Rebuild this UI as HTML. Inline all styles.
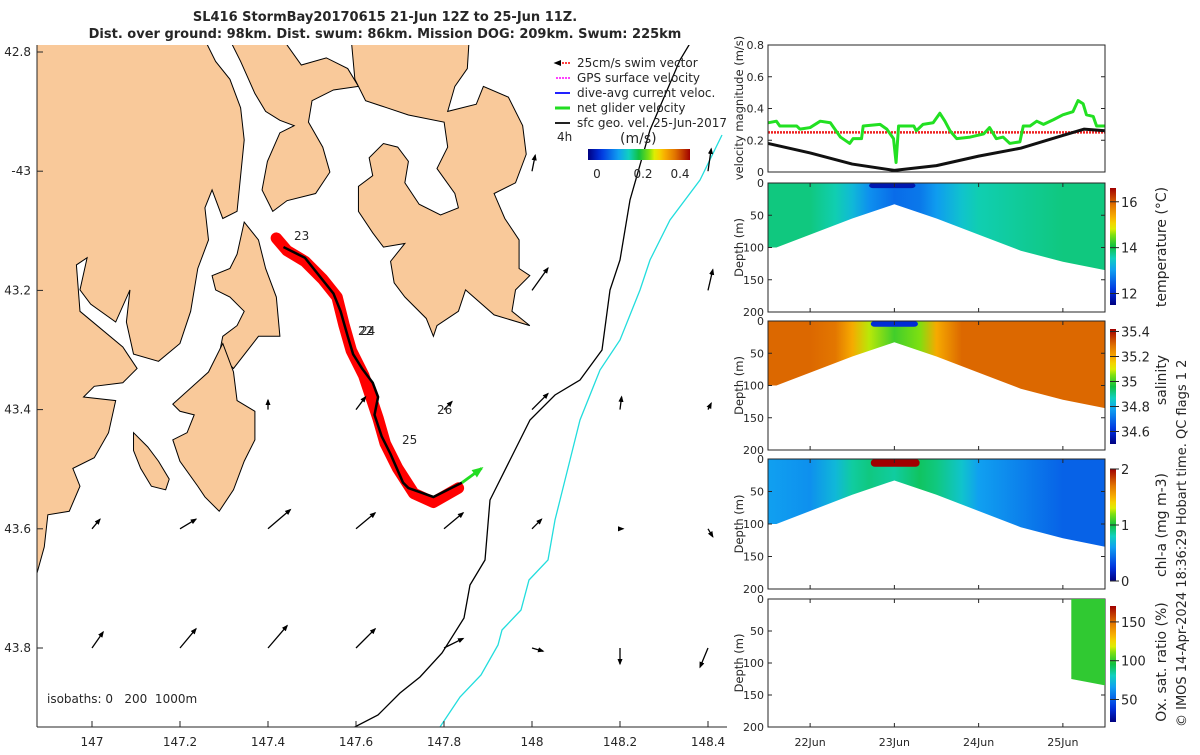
<!DOCTYPE html>
<html><head><meta charset="utf-8"><style>
body{margin:0;background:#fff;width:1200px;height:750px;overflow:hidden;font-family:"Liberation Sans","DejaVu Sans",sans-serif;}
svg text{font-family:"DejaVu Sans","Liberation Sans",sans-serif;fill:#262626;}
</style></head><body>
<svg id="s" width="1200" height="750" viewBox="0 0 1200 750" xmlns="http://www.w3.org/2000/svg">
<defs>
<marker id="ah" viewBox="0 0 10 10" refX="8" refY="5" markerWidth="5" markerHeight="5" orient="auto"><path d="M0,1 L10,5 L0,9 z" fill="#000"/></marker>
<marker id="ahg" viewBox="0 0 10 10" refX="8" refY="5" markerWidth="4" markerHeight="4" orient="auto"><path d="M0,1 L10,5 L0,9 z" fill="#22dd22"/></marker>
</defs>
<text x="385" y="21" font-size="13" font-weight="bold" text-anchor="middle">SL416 StormBay20170615 21-Jun 12Z to 25-Jun 11Z.</text>
<text x="385" y="38" font-size="13" font-weight="bold" text-anchor="middle">Dist. over ground: 98km. Dist. swum: 86km. Mission DOG: 209km. Swum: 225km</text>

<g id="map">
<clipPath id="mapclip"><rect x="37" y="45" width="690" height="682"/></clipPath>
<g clip-path="url(#mapclip)">
<g transform="translate(30,40) scale(0.357)" fill="#f9c99a" stroke="#000" stroke-width="1">
<polygon vector-effect="non-scaling-stroke" points="0,0 490,0 520,60 560,110 590,190 600,280 590,380 580,480 540,500 510,420 490,470 500,560 470,640 450,760 420,850 360,900 290,880 270,790 280,700 240,790 170,740 140,700 160,610 130,630 140,760 260,860 300,920 260,960 180,970 150,1000 240,1010 220,1100 180,1170 120,1200 140,1250 110,1320 50,1330 40,1420 15,1510 0,1510"/>
<polygon vector-effect="non-scaling-stroke" points="560,0 710,0 760,70 830,50 890,80 920,130 850,140 790,170 780,230 820,300 840,370 800,430 720,450 680,480 650,420 665,340 700,260 740,240 700,225 660,200 630,150 590,60"/>
<polygon vector-effect="non-scaling-stroke" points="900,0 1230,0 1225,80 1190,130 1170,200 1250,180 1270,130 1340,160 1380,240 1390,320 1360,400 1300,430 1330,500 1370,560 1370,640 1400,660 1360,700 1350,760 1400,800 1300,770 1220,700 1200,760 1140,800 1130,830 1110,780 1050,720 1020,680 1010,620 1050,570 990,580 960,540 920,480 920,410 960,380 950,330 990,290 1030,300 1060,340 1050,400 1090,460 1150,490 1200,470 1190,430 1140,360 1170,300 1160,230 1060,210 1000,190 940,170 910,110"/>
<polygon vector-effect="non-scaling-stroke" points="600,510 640,560 660,640 690,720 700,830 640,830 570,920 530,880 540,830 580,800 600,760 560,720 520,700 510,660 560,640 580,600"/>
<polygon vector-effect="non-scaling-stroke" points="540,850 570,930 580,1010 630,1040 630,1120 600,1180 570,1260 530,1320 490,1280 470,1250 420,1180 400,1120 440,1100 460,1050 420,1040 400,1020 500,930"/>
<polygon vector-effect="non-scaling-stroke" points="290,1100 330,1140 360,1180 390,1230 380,1260 340,1250 310,1200 290,1150"/>
<polyline fill="none" stroke="#ff0000" stroke-width="32" stroke-linejoin="round" stroke-linecap="round" points="690,555 720,590 770,620 820,670 860,720 880,800 900,870 935,940 955,1000 975,1060 995,1130 1030,1200 1075,1270 1130,1295 1200,1255"/>
<polyline fill="none" stroke="#000" stroke-width="7" points="710,580 770,610 810,660 850,710 870,760 890,830 905,880 930,920 960,960 975,1000 965,1050 985,1110 1010,1160 1045,1240 1060,1255 1130,1280 1210,1240"/>
<line x1="1210" y1="1240" x2="1265" y2="1200" stroke="#22dd22" stroke-width="8" marker-end="url(#ahg)"/>
</g>
<polyline fill="none" stroke="#000" stroke-width="1.3" points="692,40 680,60 650,130 630,200 620,260 610,290 602,350 580,380 555,395 530,420 510,460 490,500 485,560 470,585 464,618 442,653 420,677 400,693 378,715 345,732"/>
<polyline fill="none" stroke="#22dddd" stroke-width="1.3" points="722,135 700,180 670,220 650,260 640,290 620,340 600,370 580,420 570,460 560,500 555,520 548,560 529,580 521,610 502,630 498,645 481,675 460,697 438,730"/>
</g>
<g id="vecs"></g>
<text x="294" y="240" font-size="12">23</text>
<text x="358" y="335" font-size="12">22</text>
<text x="360" y="335" font-size="12">24</text>
<text x="402" y="444" font-size="12">25</text>
<text x="437" y="414" font-size="12">26</text>
<line x1="37" y1="727" x2="727" y2="727" stroke="#262626"/>
<line x1="37" y1="45" x2="37" y2="727" stroke="#262626"/>
<g id="mapticks"></g>
<text x="47" y="703" font-size="12" xml:space="preserve">isobaths: 0   200  1000m</text>
<g font-size="12">
<line x1="570" y1="63" x2="555" y2="63" stroke="#f00" stroke-width="1.5" stroke-dasharray="2,1" marker-end="url(#ah)"/><text x="577" y="67">25cm/s swim vector</text>
<line x1="570" y1="78" x2="555" y2="78" stroke="#f0f" stroke-width="1.5" stroke-dasharray="2,1"/><text x="577" y="82">GPS surface velocity</text>
<line x1="570" y1="93" x2="555" y2="93" stroke="#22f" stroke-width="2"/><text x="577" y="97">dive-avg current veloc.</text>
<line x1="570" y1="108" x2="555" y2="108" stroke="#2d2" stroke-width="3"/><text x="577" y="112">net glider velocity</text>
<line x1="570" y1="123" x2="555" y2="123" stroke="#222" stroke-width="2"/><text x="577" y="127">sfc geo. vel. 25-Jun-2017</text>
<text x="557" y="141">4h</text>
<text x="620" y="143" font-size="14">(m/s)</text>
<rect id="mscb" x="588" y="149" width="102" height="11"/>
<text x="597" y="178" text-anchor="middle">0</text><text x="643" y="178" text-anchor="middle">0.2</text><text x="680" y="178" text-anchor="middle">0.4</text>
</g>
</g>

<g id="right"></g>
<text transform="translate(1186,727) rotate(-90)" font-size="13">© IMOS 14-Apr-2024 18:36:29 Hobart time. QC flags 1  2</text>
</svg>
<script>
// ---------- DATA ----------
const velT = [21.50,21.60,21.64,21.84,21.88,22.0,22.12,22.24,22.36,22.47,22.51,22.61,22.63,22.83,22.91,22.99,23.02,23.05,23.23,23.26,23.34,23.46,23.54,23.60,23.66,23.74,23.90,24.06,24.13,24.21,24.29,24.37,24.49,24.53,24.61,24.69,24.77,24.89,25.00,25.12,25.18,25.24,25.28,25.36,25.40,25.50];
const netVel = [0.31,0.32,0.29,0.29,0.27,0.28,0.32,0.31,0.22,0.18,0.21,0.21,0.29,0.30,0.27,0.21,0.06,0.29,0.29,0.26,0.30,0.31,0.37,0.32,0.26,0.21,0.22,0.24,0.28,0.21,0.22,0.18,0.19,0.29,0.29,0.32,0.30,0.33,0.36,0.38,0.45,0.43,0.36,0.35,0.29,0.29];
const geoT = [21.5,22.0,22.5,23.0,23.5,24.0,24.5,25.0,25.25,25.5];
const geoVel = [0.18,0.12,0.05,0.01,0.04,0.10,0.15,0.23,0.27,0.26];
const swimVel = 0.25;
const bottomT = [21.5,21.6,22.0,22.5,23.0,23.5,24.0,24.5,25.0,25.5];
const bottomDepth = [100,100,80,55,33,55,80,105,122,135];
const sectT = [21.5,22.0,22.3,22.5,22.7,23.0,23.3,23.5,23.8,24.0,24.5,25.0,25.5];
const tempVals = [13.8,13.8,13.6,13.3,12.9,12.6,12.7,13.0,13.4,13.6,13.7,13.8,13.8];
const salVals = [35.3,35.3,35.28,35.2,35.08,35.0,35.05,35.2,35.3,35.3,35.3,35.3,35.3];
const chlVals = [0.6,0.55,0.7,0.85,0.9,0.85,0.95,0.9,0.75,0.6,0.5,0.4,0.4];
const oxT = [25.1,25.5]; const oxBottom = [125,135]; const oxVal = 100;
const dayTicks = [22,23,24,25]; const dayLabels = ['22Jun','23Jun','24Jun','25Jun'];
const mapXTicks = [147,147.2,147.4,147.6,147.8,148,148.2,148.4];
const mapYTicks = [42.8,43.0,43.2,43.4,43.6,43.8];
const mapYLabels = ['42.8','-43','43.2','43.4','43.6','43.8'];
const vecLon = [147,147.2,147.4,147.6,147.8,148,148.2,148.4, 147,147.2,147.4,147.6,147.8,148,148.2,148.4, 147.4,147.6,147.8,148,148.2,148.4, 148,148.4, 148,148.4];
const vecLat = [43.6,43.6,43.6,43.6,43.6,43.6,43.6,43.6, 43.8,43.8,43.8,43.8,43.8,43.8,43.8,43.8, 43.4,43.4,43.4,43.4,43.4,43.4, 43.2,43.2, 43.0,43.0];
const vecU = [0.05,0.1,0.14,0.12,0.12,0.06,0.02,0.03, 0.07,0.1,0.12,0.12,0.12,0.07,0.0,-0.05, 0.0,0.06,0.05,0.1,0.01,0.02, 0.1,0.03, 0.02,0.02];
const vecV = [0.06,0.06,0.12,0.1,0.1,0.06,0.0,-0.05, 0.1,0.12,0.14,0.12,0.06,-0.02,-0.1,-0.12, 0.06,0.08,0.05,0.1,0.08,0.04, 0.14,0.13, 0.1,0.14];

// ---------- helpers ----------
const NS='http://www.w3.org/2000/svg';
function mk(tag,attrs,parent){const e=document.createElementNS(NS,tag);for(const k in attrs)e.setAttribute(k,attrs[k]);(parent||document.getElementById('s')).appendChild(e);return e;}
const cmStops=[[0,[0,0,128]],[0.12,[0,48,224]],[0.3,[16,160,240]],[0.4,[16,208,192]],[0.5,[16,192,64]],[0.6,[128,224,16]],[0.66,[240,240,0]],[0.75,[248,176,0]],[0.86,[224,112,0]],[1,[160,0,0]]];
function cmap(f){f=Math.max(0,Math.min(1,f));for(let i=1;i<cmStops.length;i++){if(f<=cmStops[i][0]){const a=cmStops[i-1],b=cmStops[i];const r=(f-a[0])/(b[0]-a[0]);const c=a[1].map((v,j)=>Math.round(v+(b[1][j]-v)*r));return 'rgb('+c.join(',')+')';}}return 'rgb(160,0,0)';}
const mapX = lon => 92 + (lon-147)/0.2*88;
const mapY = lat => 52 + (lat-42.8)/0.2*119.2;
const X0=768,X1=1105;
const tx = t => X0 + (t-21.5)/4*(X1-X0);
const defs=document.querySelector('defs');

const mt=document.getElementById('mapticks');
mapXTicks.forEach(v=>{const x=mapX(v);
 const l=mk('line',{x1:x,y1:727,x2:x,y2:721,stroke:'#262626'},mt);
 
 
 const t=mk('text',{x:x,y:746,'font-size':12,'text-anchor':'middle'},mt);t.textContent=String(v);
 
 });
mapYTicks.forEach((v,i)=>{const y=mapY(v);
 const l=mk('line',{x1:37,y1:y,x2:43,y2:y,stroke:'#262626'},mt);
 
 
 const t=mk('text',{x:31,y:y+4,'font-size':12,'text-anchor':'end'},mt);t.textContent=mapYLabels[i];
 
 });
const vg=document.getElementById('vecs');
vecLon.forEach((lon,i)=>{const x=mapX(lon),y=mapY(vecLat[i]);
 const a=mk('line',{x1:x,y1:y,x2:x+vecU[i]*160,y2:y-vecV[i]*160,stroke:'#000','stroke-width':1.3,'marker-end':'url(#ah)'},vg);
 
 });
const g0=mk('linearGradient',{id:'gh',x1:0,y1:0,x2:1,y2:0},defs);
for(let i=0;i<=20;i++)mk('stop',{offset:i/20,'stop-color':cmap(i/20)},g0);
document.getElementById('mscb').setAttribute('fill','url(#gh)');

// ---------- right panels ----------
const R=document.getElementById('right');
function axesBox(y0,y1,name){const r=mk('rect',{x:X0,y:y0,width:X1-X0,height:y1-y0,fill:'none',stroke:'#262626'},R);
 
 }
function dayTickMarks(y0,y1,labels){dayTicks.forEach((d,i)=>{const x=tx(d);
 const l=mk('line',{x1:x,y1:y1,x2:x,y2:y1-4,stroke:'#262626'},R);
 
 
 const l2=mk('line',{x1:x,y1:y0,x2:x,y2:y0+4,stroke:'#262626'},R);
 
 
 if(labels){const t=mk('text',{x:x,y:746,'font-size':11,'text-anchor':'middle'},R);t.textContent=dayLabels[i];
  
  }});}
function yTicks(vals,fy){vals.forEach(v=>{const y=fy(v);
 const l=mk('line',{x1:X0,y1:y,x2:X0+4,y2:y,stroke:'#262626'},R);
 
 
 const l2=mk('line',{x1:X1,y1:y,x2:X1-4,y2:y,stroke:'#262626'},R);
 
 
 const t=mk('text',{x:X0-4,y:y+4,'font-size':11,'text-anchor':'end'},R);t.textContent=String(v);
 
 });}
function ylabel(txt,y){const t=mk('text',{transform:`translate(743,${y}) rotate(-90)`,'font-size':11.5,'text-anchor':'middle'},R);t.textContent=txt;
 
 }

const vy = v => 172 - v/0.8*127;
function line(ts,vs,col,w,name,dash){const p=mk('polyline',{points:ts.map((t,i)=>tx(t)+','+vy(vs[i])).join(' '),fill:'none',stroke:col,'stroke-width':w,'stroke-linejoin':'round'},R);
 if(dash)p.setAttribute('stroke-dasharray',dash);
 
 }
line([21.5,25.5],[swimVel,swimVel],'#ee2020',2.5,'swim-velocity-line','2,1');
line(geoT,geoVel,'#111',3,'geostrophic-velocity-line');
line(velT,netVel,'#22e022',3,'net-glider-velocity-line');
axesBox(45,172,'velocity-axes');
yTicks([0,0.2,0.4,0.6,0.8],vy);
ylabel('velocity magnitude (m/s)',108);

function section(y0,y1,vals,vmin,vmax,patch,name,cbTicks,cbLabel,cbY0,cbY1,cbMin,cbMax){
 const dy = d => y0 + d/200*(y1-y0);
 const id='g'+name;
 const gr=mk('linearGradient',{id:id,gradientUnits:'userSpaceOnUse',x1:X0,y1:0,x2:X1,y2:0},defs);
 if(vals) sectT.forEach((t,i)=>mk('stop',{offset:(tx(t)-X0)/(X1-X0),'stop-color':cmap((vals[i]-vmin)/(vmax-vmin))},gr));
 const cp=mk('clipPath',{id:'c'+name},defs);
 const pts=[tx(21.5)+','+dy(0)];bottomT.forEach((t,i)=>pts.push(tx(t)+','+dy(bottomDepth[i])));pts.push(tx(25.5)+','+dy(0));
 mk('polygon',{points:pts.join(' ')},cp);
 if(vals){const r=mk('rect',{x:X0,y:y0,width:X1-X0,height:y1-y0,fill:'url(#'+id+')','clip-path':'url(#c'+name+')'},R);
  
  
  if(patch){const p=mk('rect',{x:tx(patch[0]),y:dy(0),width:tx(patch[1])-tx(patch[0]),height:dy(patch[2])-dy(0),rx:4,fill:cmap((patch[3]-vmin)/(vmax-vmin))},R);
   
   }}
 axesBox(y0,y1,name+'-axes');
 yTicks([0,50,100,150,200],dy);
 ylabel('Depth (m)',(y0+y1)/2);
 const cg=mk('linearGradient',{id:'cb'+name,x1:0,y1:1,x2:0,y2:0},defs);
 for(let i=0;i<=20;i++)mk('stop',{offset:i/20,'stop-color':cmap(i/20)},cg);
 const cb=mk('rect',{x:1110,y:cbY0,width:6,height:cbY1-cbY0,fill:'url(#cb'+name+')'},R);
 
 
 cbTicks.forEach(v=>{const y=cbY1-(v-cbMin)/(cbMax-cbMin)*(cbY1-cbY0);
  const l=mk('line',{x1:1110,y1:y,x2:1119,y2:y,stroke:'#262626'},R);
  
  
  const t=mk('text',{x:1121,y:y+5,'font-size':13},R);t.textContent=String(v);
  
  });
 const lt=mk('text',{transform:`translate(1166,${cbLabel[1]}) rotate(-90)`,'font-size':14,'text-anchor':'middle'},R);lt.textContent=cbLabel[0];
 
 
 return dy;
}
section(183,312,tempVals,11.5,16.6,[22.7,23.25,8,11.8],'temperature',[12,14,16],['temperature (°C)',247],188,305,11.5,16.6);
dayTickMarks(183,312,false);
section(321,450,salVals,34.5,35.42,[22.72,23.28,9,34.6],'salinity',[34.6,34.8,35,35.2,35.4],['salinity',380],329,444,34.5,35.42);
dayTickMarks(321,450,false);
section(459,589,chlVals,0,2,[22.72,23.3,12,2.0],'chl',[0,1,2],['chl-a (mg m-3)',525],469,581,0,2);
dayTickMarks(459,589,false);
const oxDy=section(599,727,null,21,170.5,null,'oxygen',[50,100,150],['Ox. sat. ratio (%)',662],606,722,21,170.5);
const ox=mk('polygon',{points:[tx(oxT[0])+','+oxDy(0),tx(oxT[1])+','+oxDy(0),tx(oxT[1])+','+oxDy(oxBottom[1]),tx(oxT[0])+','+oxDy(oxBottom[0])].join(' '),fill:cmap((oxVal-21)/(170.5-21))},R);


dayTickMarks(599,727,true);
</script>
</body></html>
